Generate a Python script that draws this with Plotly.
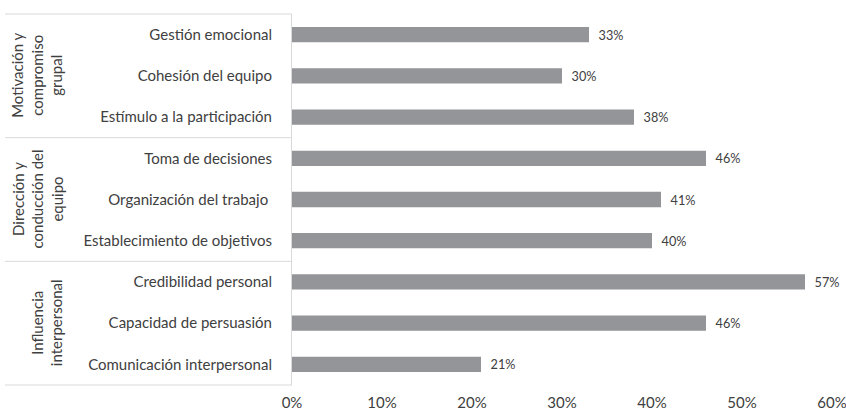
import plotly.graph_objects as go

categories = [
    "Gestión emocional",
    "Cohesión del equipo",
    "Estímulo a la participación",
    "Toma de decisiones",
    "Organización del trabajo ",
    "Establecimiento de objetivos",
    "Credibilidad personal",
    "Capacidad de persuasión",
    "Comunicación interpersonal",
]
values = [0.33, 0.30, 0.38, 0.46, 0.41, 0.40, 0.57, 0.46, 0.21]
groups = [
    "Motivación y<br>compromiso<br>grupal",
    "Dirección y<br>conducción del<br>equipo",
    "Influencia<br>interpersonal",
]
group_centers = [categories[1], categories[4], categories[7]]
group_bounds = [categories[2], categories[5]]
x_ticks = [0, 0.1, 0.2, 0.3, 0.4, 0.5, 0.6]

FONT = "Lato, 'Open Sans', sans-serif"
TXT = "#404040"
W, H = 846, 412
L, R, T, B = 292, 14, 14, 27
PW = W - L - R

fig = go.Figure(go.Bar(
    x=values, y=categories, orientation="h",
    marker=dict(color="#939598", line=dict(width=0)),
    width=0.37,
    texttemplate="\u00a0\u00a0%{x:.0%}",
    textposition="outside",
    textfont=dict(family=FONT, size=15, color=TXT),
    cliponaxis=False,
))

shapes = []
x0 = (5 - L) / PW
for yv in [0, 1]:
    shapes.append(dict(type="line", xref="paper", yref="paper", x0=x0, x1=0,
                       y0=yv, y1=yv, line=dict(color="#d9d9d9", width=1)))
cat_idx = {c: i for i, c in enumerate(categories)}
for c in group_bounds:
    yb = cat_idx[c] + 0.5
    shapes.append(dict(type="line", xref="paper", yref="y", x0=x0, x1=0,
                       y0=yb, y1=yb, line=dict(color="#d9d9d9", width=1)))

annotations = []
centers_px = [37, 37, 47]
for g, c, px in zip(groups, group_centers, centers_px):
    annotations.append(dict(text=g, xref="paper", yref="y", x=(px - L) / PW, y=c,
                            xanchor="center", yanchor="middle", textangle=-90,
                            showarrow=False, align="center",
                            font=dict(family=FONT, size=15, color=TXT)))

fig.update_layout(
    width=W, height=H,
    margin=dict(l=L, r=R, t=T, b=B, autoexpand=False),
    paper_bgcolor="white", plot_bgcolor="white",
    showlegend=False,
    shapes=shapes, annotations=annotations,
    xaxis=dict(range=[0, 0.6], tickvals=x_ticks, tickformat=".0%",
               showgrid=False, zeroline=False, showline=False, ticks="",
               automargin=False, ticklabelstandoff=7, ticklabeloverflow="allow",
               tickfont=dict(family=FONT, size=15, color=TXT)),
    yaxis=dict(autorange="reversed", showgrid=False, zeroline=False,
               showline=True, linecolor="#d9d9d9", linewidth=1, ticks="",
               automargin=False, ticklabelstandoff=16,
               tickfont=dict(family=FONT, size=15, color=TXT)),
)

fig.write_html("out.html")
